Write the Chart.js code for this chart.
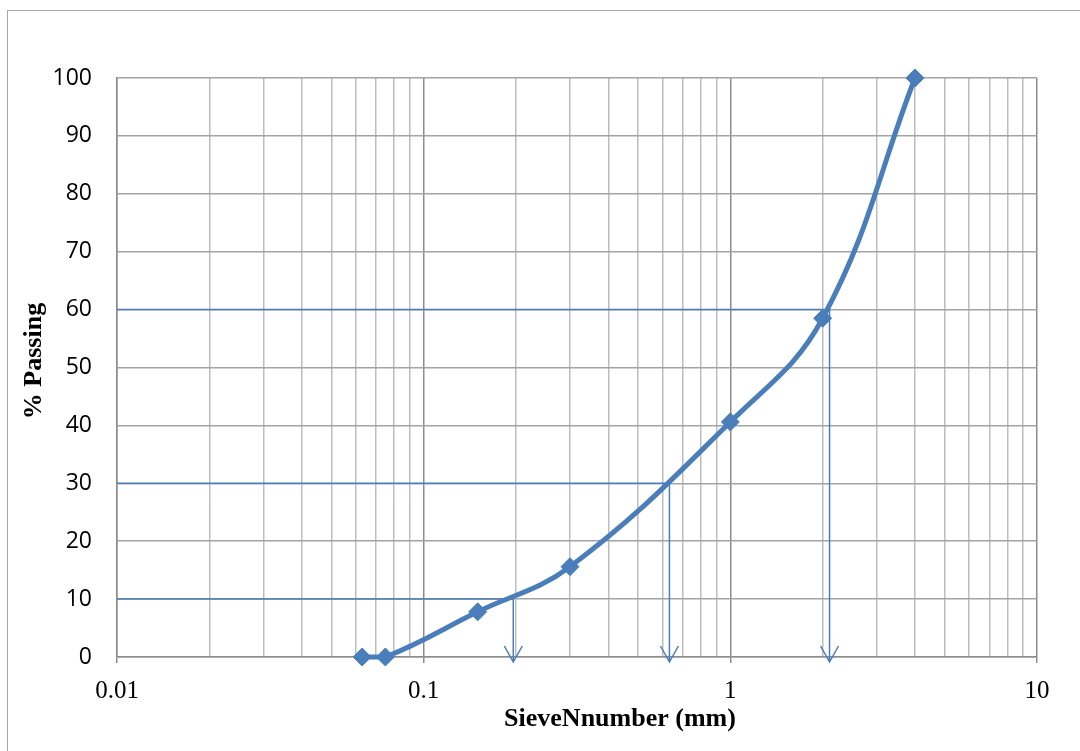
<!DOCTYPE html>
<html>
<head>
<meta charset="utf-8">
<style>
  html, body { margin: 0; padding: 0; background: #fff; overflow: hidden; width: 1080px; height: 751px; }
  #frame { position: absolute; left: 7px; top: 10px; width: 1300px; height: 1000px; border: 1.5px solid #a5a5a5; }
  #wrap { position: absolute; left: 0; top: 0; width: 1080px; height: 751px; }
</style>
<script src="https://cdn.jsdelivr.net/npm/chart.js@4.4.1/dist/chart.umd.min.js"></script>
</head>
<body>
<div id="frame"></div>
<div id="wrap"><canvas id="c"></canvas></div>
<script>
// Grain size distribution: sieve opening (mm) vs. percent passing
const sieveSizeMm = [0.063, 0.075, 0.15, 0.3, 1, 2, 4];
const percentPassing = [0, 0, 7.8, 15.6, 40.6, 58.5, 100];

// D10, D30, D60 read-off guides
const guidePercent = [10, 30, 60];
const guideSizeMm = [0.196, 0.633, 2.106];

// Log-axis gridlines and labelled decades
const xGridValues = [
  0.01, 0.02, 0.03, 0.04, 0.05, 0.06, 0.07, 0.08, 0.09,
  0.1, 0.2, 0.3, 0.4, 0.5, 0.6, 0.7, 0.8, 0.9,
  1, 2, 3, 4, 5, 6, 7, 8, 9,
  10
];
const xMajorValues = [0.01, 0.1, 1, 10];
const xTickLabels = ['0.01', '0.1', '1', '10'];
const yTickValues = [0, 10, 20, 30, 40, 50, 60, 70, 80, 90, 100];

const xAxisTitle = 'SieveNnumber (mm)';
const yAxisTitle = '% Passing';

const BLUE = '#4a7ebb';
const TITLE_FONT = 'bold 26px "Liberation Serif", "Times New Roman", serif';
const xMin = xMajorValues[0];
const xMax = xMajorValues[xMajorValues.length - 1];

function majorIndex(v) {
  return xMajorValues.findIndex(m => Math.abs(m - v) < m * 1e-6);
}

const curveData = sieveSizeMm.map((x, i) => ({ x: x, y: percentPassing[i] }));

const guideDatasets = guidePercent.map((p, i) => ({
  data: [
    { x: xMin, y: p },
    { x: guideSizeMm[i], y: p },
    { x: guideSizeMm[i], y: 0 }
  ],
  showLine: true,
  borderColor: BLUE,
  borderWidth: 1.5,
  pointRadius: 0,
  tension: 0,
  order: 1
}));

// Open arrowheads at the foot of each vertical guide
const arrowHeads = {
  id: 'arrowHeads',
  afterDatasetsDraw(chart) {
    const { ctx, scales } = chart;
    ctx.save();
    ctx.strokeStyle = BLUE;
    ctx.lineWidth = 1.5;
    guideSizeMm.forEach(d => {
      const px = scales.x.getPixelForValue(d);
      const py = scales.y.getPixelForValue(0);
      const tip = py + 5;
      ctx.beginPath();
      ctx.moveTo(px, py);
      ctx.lineTo(px, tip);
      ctx.moveTo(px - 9, tip - 16);
      ctx.lineTo(px, tip);
      ctx.lineTo(px + 9, tip - 16);
      ctx.stroke();
    });
    ctx.restore();
  }
};

// Axis titles, placed relative to the plot area
const axisTitles = {
  id: 'axisTitles',
  afterDraw(chart) {
    const { ctx, chartArea } = chart;
    ctx.save();
    ctx.fillStyle = '#000';
    ctx.font = TITLE_FONT;
    ctx.textAlign = 'center';
    ctx.textBaseline = 'middle';
    ctx.fillText(xAxisTitle, chartArea.left + 503, chartArea.bottom + 62);
    ctx.translate(34, chartArea.top + 283);
    ctx.rotate(-Math.PI / 2);
    ctx.fillText(yAxisTitle, 0, 0);
    ctx.restore();
  }
};

new Chart(document.getElementById('c'), {
  type: 'scatter',
  data: {
    datasets: [
      {
        data: curveData,
        showLine: true,
        clip: false,
        borderColor: BLUE,
        backgroundColor: BLUE,
        borderWidth: 5,
        pointStyle: 'rectRot',
        pointRadius: 9,
        pointBorderWidth: 1,
        pointBorderColor: BLUE,
        pointBackgroundColor: BLUE,
        tension: 0.4,
        order: 0
      },
      ...guideDatasets
    ]
  },
  options: {
    responsive: true,
    maintainAspectRatio: false,
    animation: false,
    events: [],
    layout: { padding: { top: 78, right: 43, left: 0, bottom: 0 } },
    plugins: {
      legend: { display: false },
      tooltip: { enabled: false }
    },
    scales: {
      x: {
        type: 'logarithmic',
        min: xMin,
        max: xMax,
        afterBuildTicks(scale) {
          scale.ticks = xGridValues.map(v => ({ value: v, major: majorIndex(v) >= 0 }));
        },
        afterFit(scale) { scale.height = 94; },
        grid: {
          color: ctx => (ctx.tick && majorIndex(ctx.tick.value) >= 0) ? '#8c8c8c' : '#bdbdbd',
          lineWidth: 1.5,
          tickColor: ctx => (ctx.tick && majorIndex(ctx.tick.value) >= 0) ? '#8c8c8c' : 'rgba(0,0,0,0)',
          tickLength: 6,
          drawTicks: true
        },
        border: { color: '#8c8c8c', width: 1.5 },
        ticks: {
          autoSkip: false,
          maxRotation: 0,
          padding: 13,
          color: '#000',
          font: { family: '"Liberation Serif", "Times New Roman", serif', size: 25 },
          callback: v => {
            const i = majorIndex(v);
            return i >= 0 ? xTickLabels[i] : '';
          }
        },
        title: { display: false }
      },
      y: {
        type: 'linear',
        min: 0,
        max: 100,
        afterBuildTicks(scale) {
          scale.ticks = yTickValues.map(v => ({ value: v }));
        },
        afterFit(scale) { scale.width = 117; },
        grid: { color: '#a3a3a3', lineWidth: 1.5, drawTicks: false },
        border: { color: '#8c8c8c', width: 1.5 },
        ticks: {
          padding: 25,
          color: '#000',
          font: { family: '"Open Sans", sans-serif', size: 23 }
        },
        title: { display: false }
      }
    }
  },
  plugins: [arrowHeads, axisTitles]
});
</script>
</body>
</html>
